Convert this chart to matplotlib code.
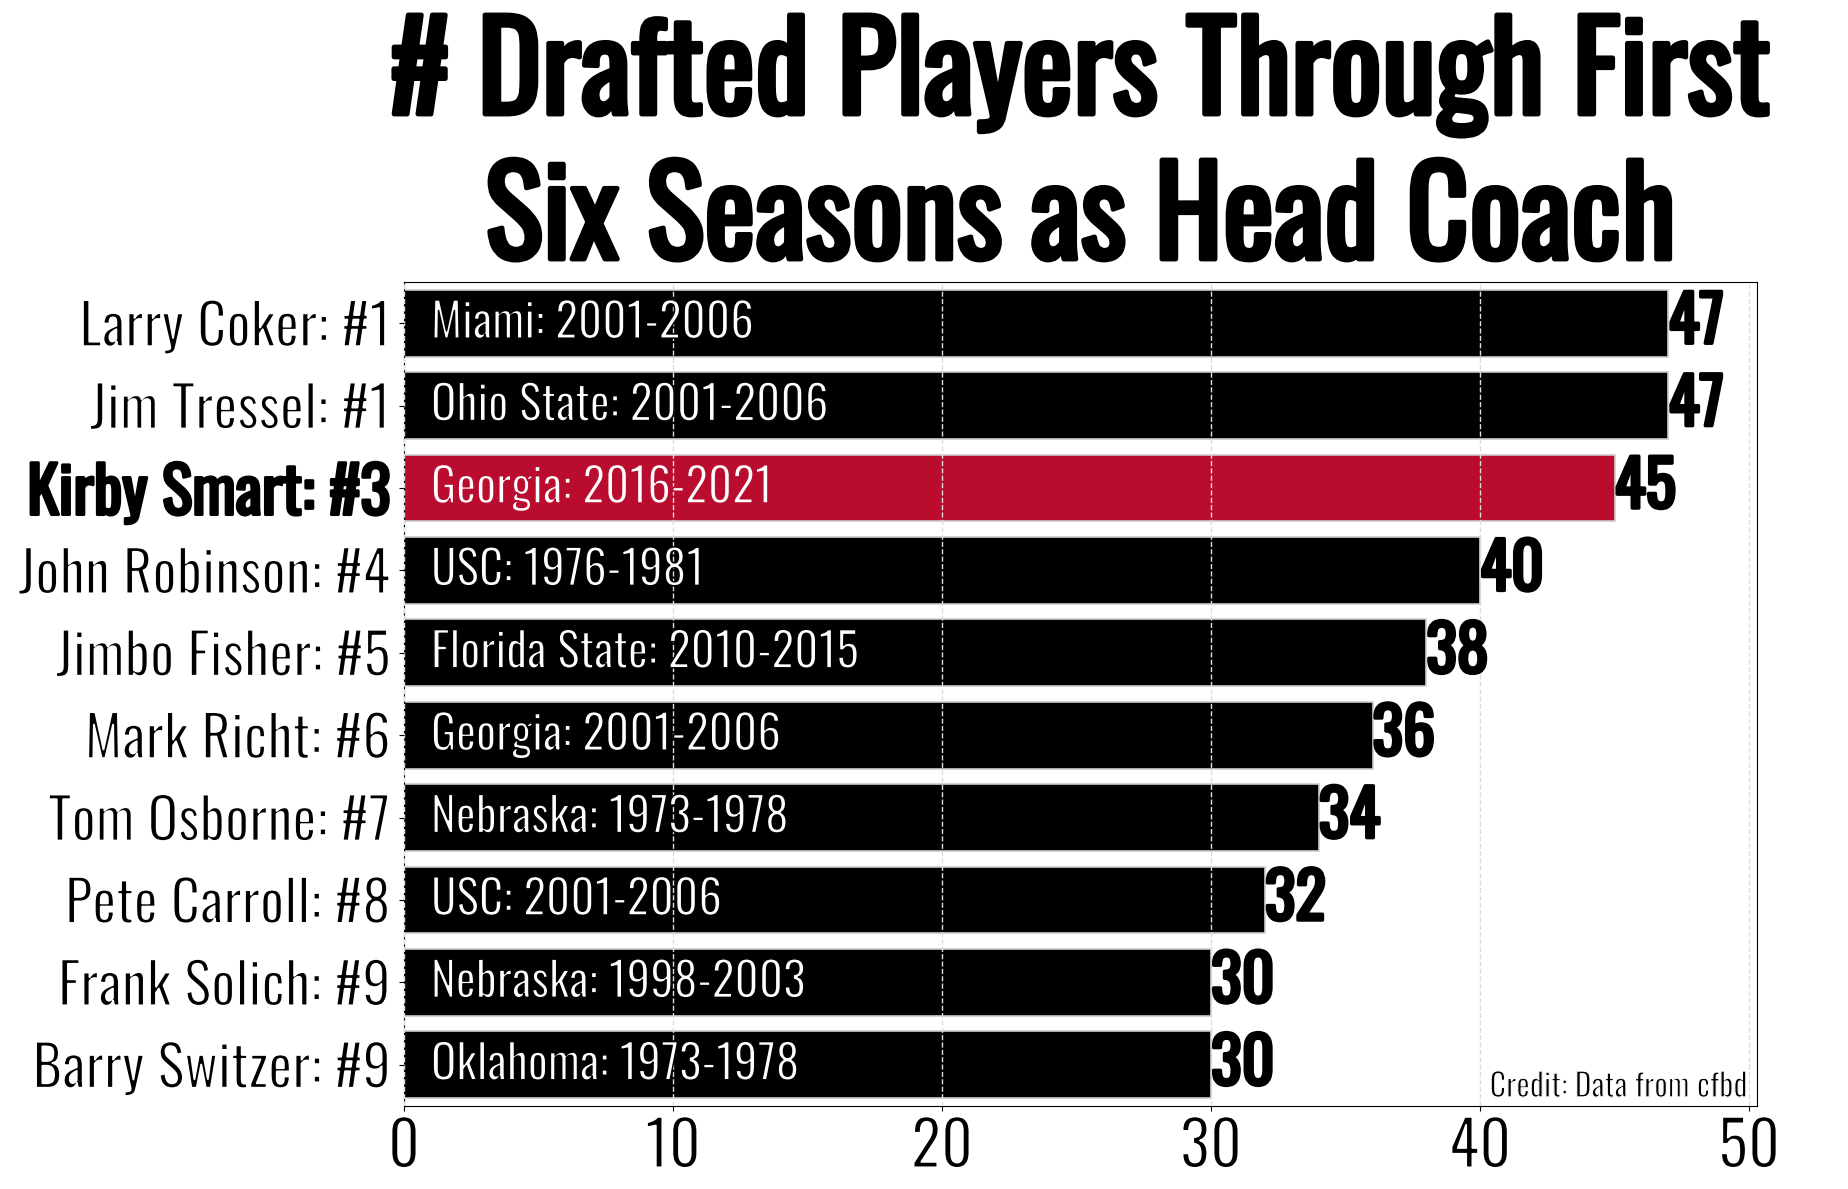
import matplotlib
matplotlib.use("Agg")
import matplotlib.pyplot as plt
import matplotlib.patheffects as pe

coaches = ["Larry Coker: #1", "Jim Tressel: #1", "Kirby Smart: #3", "John Robinson: #4",
           "Jimbo Fisher: #5", "Mark Richt: #6", "Tom Osborne: #7", "Pete Carroll: #8",
           "Frank Solich: #9", "Barry Switzer: #9"]
schools = ["Miami: 2001-2006", "Ohio State: 2001-2006", "Georgia: 2016-2021", "USC: 1976-1981",
           "Florida State: 2010-2015", "Georgia: 2001-2006", "Nebraska: 1973-1978",
           "USC: 2001-2006", "Nebraska: 1998-2003", "Oklahoma: 1973-1978"]
drafted = [47, 47, 45, 40, 38, 36, 34, 32, 30, 30]
highlight = "Kirby Smart: #3"

FONT = "Oswald"
UGA_RED = "#BA0C2F"


def thin(bg, w=1.3):
    # only the regular weight of Oswald is available: shave the glyphs a bit
    return [pe.Normal(), pe.Stroke(linewidth=w, foreground=bg)]


def heavy(w):
    return [pe.withStroke(linewidth=w, foreground="black")]


fig = plt.figure(figsize=(18.48, 11.89), dpi=100)
ax = fig.add_axes([404 / 1848, 1 - 1106 / 1189, 1353 / 1848, 824 / 1189])

colors = [UGA_RED if c == highlight else "black" for c in coaches]
ypos = list(range(len(coaches)))
ax.barh(ypos, drafted, height=0.81, color=colors, edgecolor="#cccccc", linewidth=1.2, zorder=2)

for y, school, n, col in zip(ypos, schools, drafted, colors):
    ax.text(1, y, school, color="white", ha="left", va="center", fontsize=34,
            family=FONT, zorder=4, path_effects=thin(col, 1.1))
    ax.text(n, y, str(n), color="black", ha="left", va="center", fontsize=46,
            family=FONT, zorder=4, path_effects=heavy(2.5))

ax.set_xlim(0, max(drafted) * 1.07)
ax.set_ylim(len(coaches) - 0.5, -0.5)
ax.set_xticks([0, 10, 20, 30, 40, 50])
ax.set_yticks(ypos)
ax.set_yticklabels(coaches)
ax.tick_params(axis="y", labelsize=41, pad=6)
ax.tick_params(axis="x", labelsize=45, pad=4)
for lab in ax.get_xticklabels() + ax.get_yticklabels():
    lab.set_family(FONT)
    lab.set_path_effects(thin("white", 1.4))
for lab in ax.get_yticklabels():
    if lab.get_text() == highlight:
        lab.set_fontsize(46)
        lab.set_path_effects(heavy(2.2))

ax.grid(axis="x", color="#dddddd", linestyle="--", linewidth=1.0, zorder=3)
ax.set_axisbelow(False)

ax.text(0.993, 0.011, "Credit: Data from cfbd", transform=ax.transAxes, ha="right",
        va="baseline", fontsize=23, family=FONT, zorder=5, path_effects=thin("white", 0.9))

ax.set_title("# Drafted Players Through First\nSix Seasons as Head Coach", fontsize=88,
             family=FONT, pad=16, linespacing=1.22, path_effects=heavy(3.5))

fig.savefig("out.png", dpi=100)
